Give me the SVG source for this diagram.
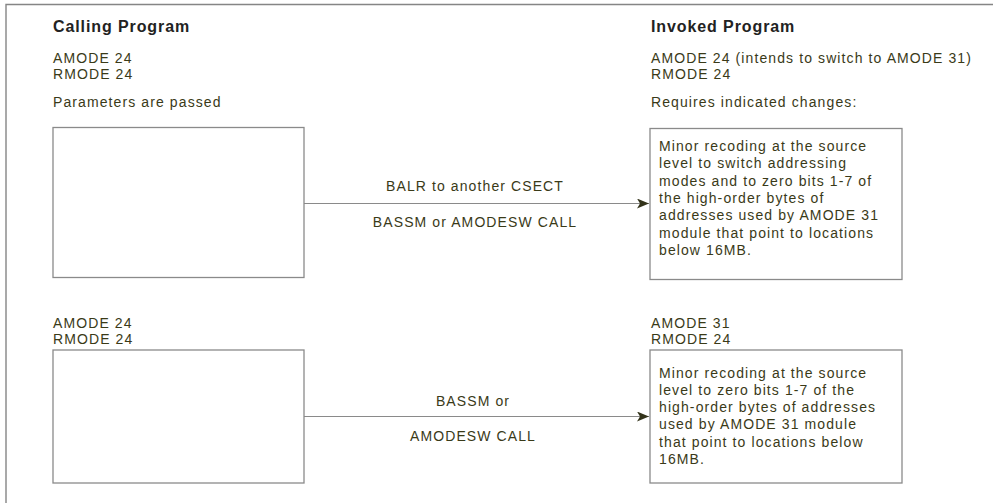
<svg xmlns="http://www.w3.org/2000/svg" width="993" height="503" viewBox="0 0 993 503">
  <defs>
    <style>
      .frame { fill: none; stroke: #858585; stroke-width: 1.4; }
      .box { fill: #ffffff; stroke: #8a8a8a; stroke-width: 1.3; }
      .edge { fill: none; stroke: #8a8a8a; stroke-width: 1.2; }
      .head { font-family: "Liberation Sans", Arial, sans-serif; font-size: 16px; font-weight: bold; fill: #222222; letter-spacing: 0.9px; }
      .txt { font-family: "Liberation Sans", Arial, sans-serif; font-size: 14px; fill: #3a3a18; letter-spacing: 1.1px; }
      .mid { text-anchor: middle; }
    </style>
    <marker id="arrow" viewBox="0 0 12 10" refX="12" refY="5" markerWidth="12" markerHeight="10" markerUnits="userSpaceOnUse" orient="auto">
      <path d="M0,0 L12,5 L0,10 L3,5 Z" fill="#33331a"/>
    </marker>
  </defs>
  <rect width="993" height="503" fill="#ffffff"/>

  <!-- outer frame: top and left edges -->
  <path class="frame" d="M6,503 L6,4.5 L993,4.5"/>

  <!-- column headings -->
  <text class="head" x="53" y="32">Calling Program</text>
  <text class="head" x="651" y="32">Invoked Program</text>

  <!-- upper scenario: calling program -->
  <g id="caller-1">
    <text class="txt" x="53" y="63">AMODE 24</text>
    <text class="txt" x="53" y="79">RMODE 24</text>
    <text class="txt" x="53" y="107">Parameters are passed</text>
    <rect class="box" x="53" y="127.5" width="251" height="150"/>
  </g>

  <!-- upper scenario: invoked program -->
  <g id="invoked-1">
    <text class="txt" x="651" y="63">AMODE 24 (intends to switch to AMODE 31)</text>
    <text class="txt" x="651" y="79">RMODE 24</text>
    <text class="txt" x="651" y="107">Requires indicated changes:</text>
    <rect class="box" x="650" y="128.5" width="252" height="151"/>
    <text class="txt" x="659" y="151">Minor recoding at the source</text>
    <text class="txt" x="659" y="168.3">level to switch addressing</text>
    <text class="txt" x="659" y="185.6">modes and to zero bits 1-7 of</text>
    <text class="txt" x="659" y="202.9">the high-order bytes of</text>
    <text class="txt" x="659" y="220.2">addresses used by AMODE 31</text>
    <text class="txt" x="659" y="237.5">module that point to locations</text>
    <text class="txt" x="659" y="254.8">below 16MB.</text>
  </g>

  <!-- lower scenario: calling program -->
  <g id="caller-2">
    <text class="txt" x="53" y="328">AMODE 24</text>
    <text class="txt" x="53" y="344">RMODE 24</text>
    <rect class="box" x="53" y="350" width="251" height="133"/>
  </g>

  <!-- lower scenario: invoked program -->
  <g id="invoked-2">
    <text class="txt" x="651" y="328">AMODE 31</text>
    <text class="txt" x="651" y="344">RMODE 24</text>
    <rect class="box" x="650" y="350" width="252" height="133"/>
    <text class="txt" x="659" y="377.5">Minor recoding at the source</text>
    <text class="txt" x="659" y="394.8">level to zero bits 1-7 of the</text>
    <text class="txt" x="659" y="412.1">high-order bytes of addresses</text>
    <text class="txt" x="659" y="429.4">used by AMODE 31 module</text>
    <text class="txt" x="659" y="446.7">that point to locations below</text>
    <text class="txt" x="659" y="464">16MB.</text>
  </g>

  <!-- connectors -->
  <g id="connectors">
    <path class="edge" d="M304,203.5 L649,203.5" marker-end="url(#arrow)"/>
    <text class="txt mid" x="475" y="191">BALR to another CSECT</text>
    <text class="txt mid" x="475" y="227">BASSM or AMODESW CALL</text>

    <path class="edge" d="M304,416.5 L649,416.5" marker-end="url(#arrow)"/>
    <text class="txt mid" x="473" y="406">BASSM or</text>
    <text class="txt mid" x="473" y="441">AMODESW CALL</text>
  </g>
</svg>
